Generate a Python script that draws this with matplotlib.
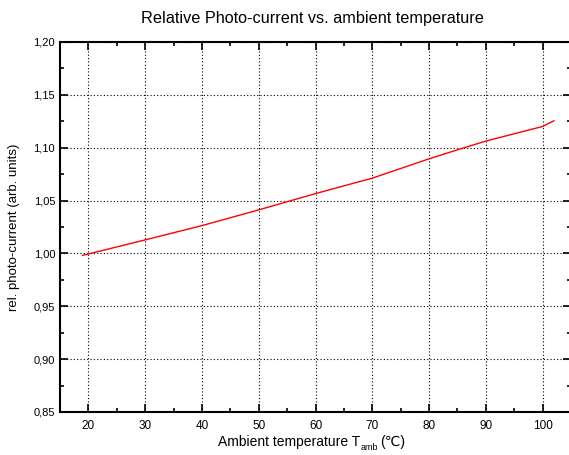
import matplotlib
matplotlib.use("Agg")
import matplotlib.pyplot as plt
from matplotlib.ticker import MultipleLocator, FuncFormatter

plt.rcParams['font.family'] = ['Liberation Sans', 'DejaVu Sans']

# data
temp = [19, 20, 30, 40, 50, 60, 70, 80, 85, 90, 100, 102]
photo = [0.9982, 0.9995, 1.0128, 1.0263, 1.0412, 1.0566, 1.0712, 1.0895, 1.0980, 1.1063, 1.1201, 1.1255]

W, H = 569, 455
fig = plt.figure(figsize=(W / 100, H / 100), dpi=100)
ax = fig.add_axes([60 / W, 1 - 412 / H, 511 / W, 370 / H])

ax.plot(temp, photo, color='red', lw=1.0)

ax.set_xlim(15, 105)
ax.set_ylim(0.85, 1.20)
ax.xaxis.set_major_locator(MultipleLocator(10))
ax.xaxis.set_minor_locator(MultipleLocator(5))
ax.yaxis.set_major_locator(MultipleLocator(0.05))
ax.yaxis.set_minor_locator(MultipleLocator(0.025))
ax.yaxis.set_major_formatter(FuncFormatter(lambda v, p: f"{v:.2f}".replace('.', ',')))

ax.tick_params(which='both', direction='in', top=True, right=True, width=1.2, labelsize=8)
ax.tick_params(which='major', length=6)
ax.tick_params(which='minor', length=3)
ax.tick_params(axis='x', labelsize=8.5, pad=6)
for s in ax.spines.values():
    s.set_linewidth(1.5)

ax.grid(True, which='major', color='black', linestyle=(0, (1, 2)), linewidth=0.8)

fig.text(312 / W, 1 - 19 / H, 'Relative Photo-current vs. ambient temperature',
         ha='center', va='center', fontsize=11.7)
fig.text(14 / W, 1 - 227 / H, 'rel. photo-current (arb. units)',
         ha='center', va='center', rotation=90, fontsize=9.5)

# x label with subscript, built from pieces
r = fig.canvas.get_renderer()
yb = 1 - 446 / H
t1 = fig.text(218 / W, yb, 'Ambient temperature T', fontsize=10, va='baseline')
b1 = t1.get_window_extent(r)
t2 = fig.text(b1.x1 / W, yb - 4 / H, 'amb', fontsize=6.5, va='baseline')
b2 = t2.get_window_extent(r)
t3 = fig.text(b2.x1 / W + 2 / W, yb, '(℃)', fontsize=10, va='baseline')

fig.savefig('out.png', dpi=100)
